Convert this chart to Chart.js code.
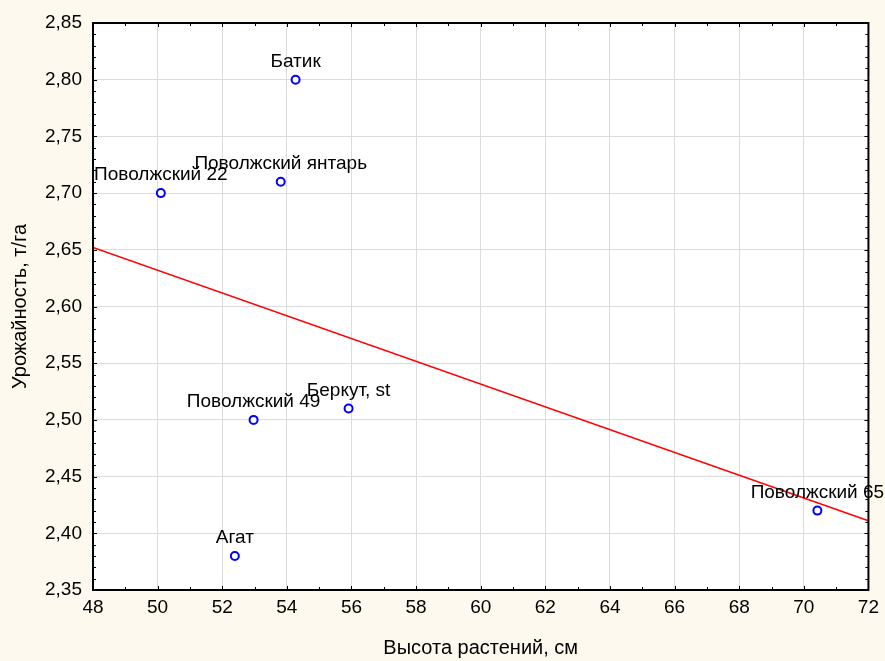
<!DOCTYPE html>
<html lang="ru">
<head>
<meta charset="utf-8">
<title>Урожайность и высота растений</title>
<script src="https://cdn.jsdelivr.net/npm/chart.js@4/dist/chart.umd.min.js"></script>
<style>
    html, body { margin: 0; padding: 0; background: #fdf9ee; }
    .wrap { width: 885px; height: 661px; position: relative; }
</style>
</head>
<body>
<div class="wrap"><canvas id="chart"></canvas></div>
<script>
// Data
const varieties = ['Поволжский 22', 'Батик', 'Поволжский янтарь', 'Поволжский 49', 'Беркут, st', 'Агат', 'Поволжский 65'];
const heights = [50.1, 54.27, 53.81, 52.97, 55.91, 52.39, 70.42];
const yields = [2.70, 2.80, 2.71, 2.50, 2.51, 2.38, 2.42];

// Regression line ends
const trendX = [48, 72];
const trendY = [2.652, 2.411];

// Axis ranges
const xRange = [48, 72];
const xStep = 2;
const yRange = [2.35, 2.85];
const yStep = 0.05;

const fontFamily = '"Liberation Sans", Arial, sans-serif';

// Labels above each point
const pointLabels = {
    id: 'pointLabels',
    afterDraw(chart) {
        const ctx = chart.ctx;
        const meta = chart.getDatasetMeta(1);
        ctx.save();
        ctx.font = '19px ' + fontFamily;
        ctx.fillStyle = '#000';
        ctx.textAlign = 'center';
        ctx.textBaseline = 'middle';
        meta.data.forEach(function(pt, i) {
            ctx.fillText(varieties[i], pt.x, pt.y - 18);
        });
        ctx.restore();
    }
};

// Frame with inward major/minor ticks
const frame = {
    id: 'frame',
    afterDraw(chart) {
        const ctx = chart.ctx;
        const a = chart.chartArea;
        const xs = chart.scales.x;
        const ys = chart.scales.y;
        ctx.save();
        ctx.strokeStyle = '#000';
        ctx.lineWidth = 1;
        ctx.beginPath();
        for (let v = xRange[0]; v <= xRange[1] + 1e-9; v += 1) {
            const px = Math.round(xs.getPixelForValue(v)) + 0.5;
            const len = (Math.round(v) % 2 === 0) ? 4 : 3;
            ctx.moveTo(px, a.bottom); ctx.lineTo(px, a.bottom - len);
            ctx.moveTo(px, a.top); ctx.lineTo(px, a.top + len);
        }
        for (let k = 0; k <= 50; k++) {
            const v = yRange[0] + k * 0.01;
            const py = Math.round(ys.getPixelForValue(v)) + 0.5;
            const len = (k % 5 === 0) ? 4 : 3;
            ctx.moveTo(a.left, py); ctx.lineTo(a.left + len, py);
            ctx.moveTo(a.right, py); ctx.lineTo(a.right - len, py);
        }
        ctx.stroke();
        ctx.lineWidth = 2;
        ctx.strokeRect(a.left, a.top, a.right - a.left, a.bottom - a.top);
        ctx.restore();
    }
};

// White plot background
const plotBg = {
    id: 'plotBg',
    beforeDraw(chart) {
        const a = chart.chartArea;
        chart.ctx.save();
        chart.ctx.fillStyle = '#ffffff';
        chart.ctx.fillRect(a.left, a.top, a.right - a.left, a.bottom - a.top);
        chart.ctx.restore();
    }
};

new Chart(document.getElementById('chart'), {
    type: 'scatter',
    data: {
        datasets: [{
            type: 'line',
            label: 'Тренд',
            data: trendX.map((x, i) => ({ x: x, y: trendY[i] })),
            borderColor: '#ff0000',
            borderWidth: 1.5,
            pointRadius: 0,
            fill: false,
            tension: 0
        }, {
            label: 'Сорта',
            data: heights.map((x, i) => ({ x: x, y: yields[i] })),
            borderColor: '#0000ff',
            backgroundColor: '#ffffff',
            borderWidth: 2,
            pointRadius: 4,
            pointHoverRadius: 4
        }]
    },
    options: {
        responsive: true,
        maintainAspectRatio: false,
        animation: false,
        layout: { padding: { top: 23, right: 15, left: 0, bottom: 0 } },
        plugins: {
            legend: { display: false },
            tooltip: { enabled: false }
        },
        scales: {
            x: {
                type: 'linear',
                min: xRange[0],
                max: xRange[1],
                afterFit: function(scale) { scale.height = 71; },
                ticks: {
                    stepSize: xStep,
                    color: '#000',
                    padding: 6,
                    font: { family: fontFamily, size: 19 }
                },
                grid: { color: '#dcdcdc', drawTicks: false },
                border: { display: false },
                title: {
                    display: true,
                    text: 'Высота растений, см',
                    color: '#000',
                    font: { family: fontFamily, size: 20 },
                    padding: { top: 0, bottom: 1 }
                }
            },
            y: {
                type: 'linear',
                min: yRange[0],
                max: yRange[1],
                afterFit: function(scale) { scale.width = 93; },
                ticks: {
                    stepSize: yStep,
                    color: '#000',
                    padding: 11,
                    font: { family: fontFamily, size: 19 },
                    callback: function(value) { return value.toFixed(2).replace('.', ','); }
                },
                grid: { color: '#dcdcdc', drawTicks: false },
                border: { display: false },
                title: {
                    display: true,
                    text: 'Урожайность, т/га',
                    color: '#000',
                    font: { family: fontFamily, size: 20 },
                    padding: { top: 8, bottom: 0 }
                }
            }
        }
    },
    plugins: [plotBg, frame, pointLabels]
});
</script>
</body>
</html>
